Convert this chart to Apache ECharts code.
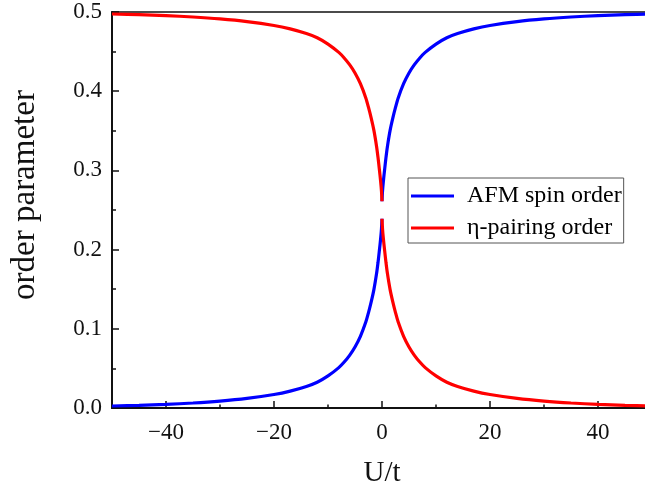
<!DOCTYPE html>
<html>
<head>
<meta charset="utf-8">
<script src="https://cdn.jsdelivr.net/npm/echarts@6/dist/echarts.min.js"></script>
<style>html,body{margin:0;padding:0;background:#fff;}#c{width:645px;height:493px;}</style>
</head>
<body>
<div id="c"></div>
<script>
// U/t sample points (negative and positive branches)
const uNeg = [-50,-45,-40,-35,-30,-25,-20,-17,-14,-12,-10,-8,-7,-6,-5,-4,-3,-2.5,-2,-1.5,-1,-0.75,-0.5,-0.25,-0.1,0];
const uPos = [0,0.1,0.25,0.5,0.75,1,1.5,2,2.5,3,4,5,6,7,8,10,12,14,17,20,25,30,35,40,45,50];
// AFM spin order
const afmNeg = [0.0025,0.0034,0.0046,0.0063,0.0087,0.0121,0.0170,0.0213,0.0272,0.0325,0.0405,0.0510,0.0580,0.0665,0.0770,0.0905,0.1085,0.1205,0.1340,0.1495,0.1700,0.1830,0.1980,0.2140,0.2260,0.2390];
const afmPos = [0.2610,0.2740,0.2860,0.3020,0.3170,0.3300,0.3505,0.3660,0.3795,0.3915,0.4095,0.4230,0.4335,0.4420,0.4490,0.4595,0.4675,0.4728,0.4787,0.4830,0.4879,0.4913,0.4937,0.4954,0.4966,0.4975];
// eta-pairing order
const etaNeg = [0.4975,0.4966,0.4954,0.4937,0.4913,0.4879,0.4830,0.4787,0.4728,0.4675,0.4595,0.4490,0.4420,0.4335,0.4230,0.4095,0.3915,0.3795,0.3660,0.3505,0.3300,0.3170,0.3020,0.2860,0.2740,0.2610];
const etaPos = [0.2390,0.2260,0.2140,0.1980,0.1830,0.1700,0.1495,0.1340,0.1205,0.1085,0.0905,0.0770,0.0665,0.0580,0.0510,0.0405,0.0325,0.0272,0.0213,0.0170,0.0121,0.0087,0.0063,0.0046,0.0034,0.0025];
// ticks
const xMajorTicks = [-40,-20,0,20,40];
const xMinorTicks = [-30,-10,10,30];
const seriesNames = ['AFM spin order','η-pairing order'];

function branch(us, vs){ return us.map((u,i)=>[u, vs[i]]); }
const afmData = branch(uNeg, afmNeg).concat([[0,'-']], branch(uPos, afmPos));
const etaData = branch(uNeg, etaNeg).concat([[0,'-']], branch(uPos, etaPos));

const font = 'Liberation Serif';
const ink = '#111';
const chart = echarts.init(document.getElementById('c'));
chart.setOption({
  animation: false,
  backgroundColor: '#fff',
  grid: {left: 112, right: -7, top: 12, bottom: 85, show: true, borderColor: ink, borderWidth: 1.5, outerBoundsMode: 'none'},
  legend: {
    orient: 'vertical', left: 408, top: 178,
    data: seriesNames,
    icon: 'rect',
    itemWidth: 43, itemHeight: 3, itemGap: 8,
    padding: [6, 2, 3, 3],
    borderColor: '#555', borderWidth: 1,
    textStyle: {fontFamily: font, fontSize: 24, color: '#000', padding: [0, 0, 0, 8]}
  },
  xAxis: [{
    type: 'value', min: -50, max: 50, interval: 10,
    name: 'U/t', nameLocation: 'middle', nameGap: 51,
    nameTextStyle: {fontFamily: font, fontSize: 29, color: ink},
    axisLine: {show: true, onZero: false, lineStyle: {color: ink, width: 2}},
    axisTick: {show: true, inside: true, length: 7, customValues: xMajorTicks, lineStyle: {color: ink, width: 1.5}},
    axisLabel: {customValues: xMajorTicks, margin: 13, fontFamily: font, fontSize: 23, color: ink,
      formatter: v => String(v).replace('-', '\u2212')},
    splitLine: {show: false}
  },{
    type: 'value', min: -50, max: 50, interval: 10, position: 'bottom',
    axisLine: {show: false, onZero: false},
    axisTick: {show: true, inside: true, length: 3.5, customValues: xMinorTicks, lineStyle: {color: ink, width: 1.5}},
    axisLabel: {show: false},
    splitLine: {show: false}
  }],
  yAxis: {
    type: 'value', min: 0, max: 0.5, interval: 0.1,
    name: 'order parameter', nameLocation: 'middle', nameGap: 70, nameRotate: 90,
    nameTextStyle: {fontFamily: font, fontSize: 33, color: ink, padding: [0, 0, 0, 30]},
    axisLine: {show: true, onZero: false, lineStyle: {color: ink, width: 2}},
    axisTick: {show: true, inside: true, length: 7, lineStyle: {color: ink, width: 1.5}},
    minorTick: {show: true, splitNumber: 2, length: 4, lineStyle: {color: ink, width: 1.5}},
    axisLabel: {margin: 10, fontFamily: font, fontSize: 23, color: ink, formatter: v => v.toFixed(1)},
    splitLine: {show: false}
  },
  series: [{
    name: seriesNames[0], type: 'line', data: afmData, xAxisIndex: 0,
    showSymbol: false, symbol: 'none', smooth: 0.3, connectNulls: false,
    lineStyle: {color: '#0000ff', width: 3.2}, itemStyle: {color: '#0000ff'}
  },{
    name: seriesNames[1], type: 'line', data: etaData, xAxisIndex: 0,
    showSymbol: false, symbol: 'none', smooth: 0.3, connectNulls: false,
    lineStyle: {color: '#ff0000', width: 3.2}, itemStyle: {color: '#ff0000'}
  }]
});
</script>
</body>
</html>
